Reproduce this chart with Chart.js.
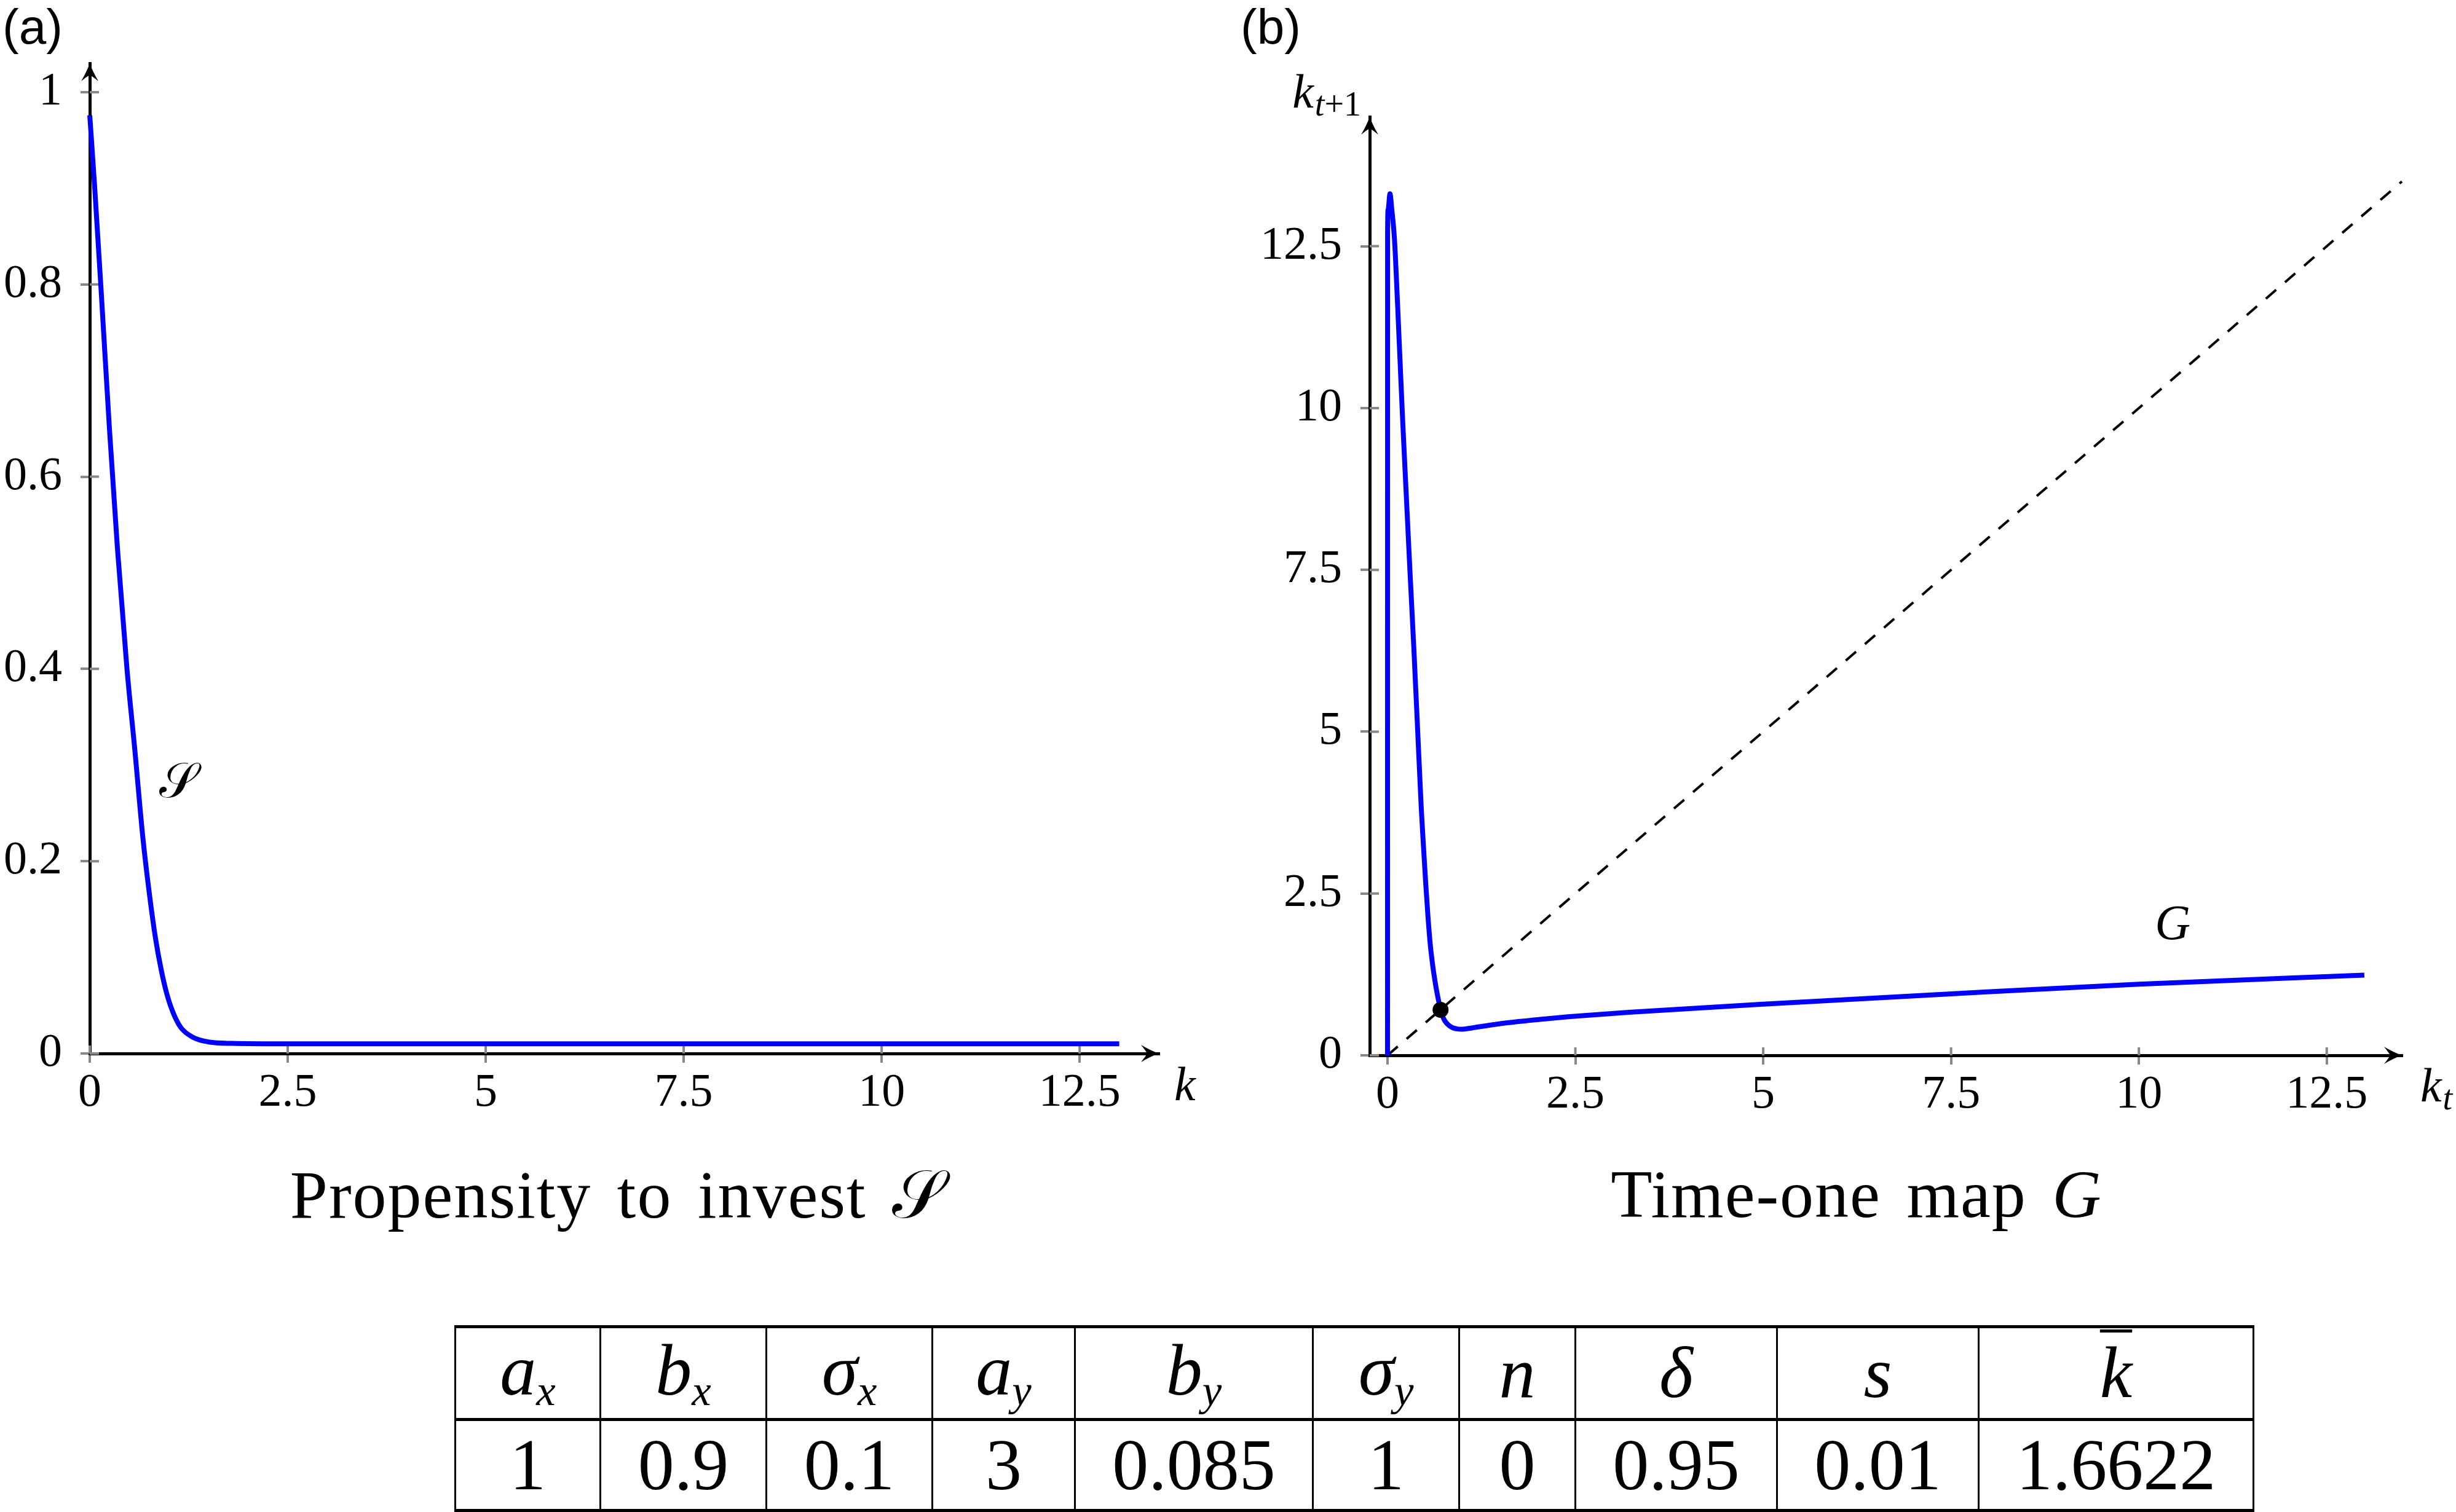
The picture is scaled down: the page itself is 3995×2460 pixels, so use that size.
<!DOCTYPE html>
<html>
<head>
<meta charset="utf-8">
<title>Propensity to invest and time-one map</title>
<script src="https://cdn.jsdelivr.net/npm/chart.js@4.4.1/dist/chart.umd.min.js"></script>
<style>
  html, body { margin: 0; padding: 0; background: #fff; }
  body { position: relative; width: 3995px; height: 2460px; overflow: hidden; font-family: "Liberation Serif", serif; color: #000; }
  canvas { position: absolute; top: 0; }
  #chartA { left: 0; }
  #chartB { left: 2000px; }
  .tag { position: absolute; top: 4px; font: 80px/80px "Liberation Sans", Arial, sans-serif; }
  .cap { position: absolute; top: 1888px; width: 1600px; text-align: center; font-size: 110px; line-height: 110px; white-space: nowrap; letter-spacing: 2px; word-spacing: 12px; }
  .cal { font-family: "DejaVu Serif", "DejaVu Sans", serif; }
  #params { position: absolute; left: 739px; top: 2156px; border-collapse: collapse; table-layout: fixed; font-size: 118px; line-height: 1; }
  #params td { border-left: 3px solid #000; border-right: 3px solid #000; border-top: 5px solid #000; border-bottom: 5px solid #000; text-align: center; vertical-align: middle; padding: 0; }
  #params tr:first-child td { height: 146px; }
  #params tr:last-child td { height: 143px; }
  #params .sub { font-size: 0.6em; vertical-align: -0.24em; }
  #params .bar { text-decoration: overline; text-decoration-thickness: 5px; }
</style>
</head>
<body>
<div class="tag" style="left:4px">(a)</div>
<div class="tag" style="left:2018px">(b)</div>
<canvas id="chartA" width="2000" height="1860"></canvas>
<canvas id="chartB" width="1995" height="1860"></canvas>
<div class="cap" style="left:205px">Propensity to invest <span class="cal">𝒮</span></div>
<div class="cap" style="left:2220px">Time-one map <i>G</i></div>
<table id="params"></table>

<script>
// panel (a): propensity to invest S(k)
const kA = [0, 0.06, 0.15, 0.25, 0.35, 0.47, 0.57, 0.67, 0.75, 0.83, 0.9, 0.97, 1.05, 1.15, 1.3, 1.5, 1.8, 2.5, 5, 7.5, 10, 13];
const sA = [0.976, 0.904, 0.785, 0.648, 0.525, 0.40, 0.315, 0.225, 0.168, 0.12, 0.088, 0.063, 0.043, 0.027, 0.017, 0.012, 0.0105, 0.01, 0.01, 0.01, 0.01, 0.01];

// panel (b): time-one map G(k_t)
const kB = [0, 0.001, 0.008, 0.033, 0.057, 0.093, 0.134, 0.166, 0.2, 0.25, 0.3, 0.35, 0.4, 0.45, 0.48, 0.51, 0.54, 0.57, 0.6, 0.63, 0.66, 0.69, 0.72, 0.75, 0.78, 0.82, 0.87, 0.93, 0.98, 1.05, 1.17, 1.58, 2.12, 2.4, 3.21, 5, 7.5, 10, 13];
const gB = [0, 12.7, 13.07, 13.31, 13.07, 12.6, 11.6, 10.75, 9.85, 8.65, 7.45, 6.3, 5.05, 3.8, 3.2, 2.63, 2.12, 1.7, 1.4, 1.16, 0.96, 0.79, 0.645, 0.56, 0.505, 0.46, 0.425, 0.407, 0.403, 0.41, 0.432, 0.5, 0.565, 0.595, 0.665, 0.79, 0.95, 1.1, 1.24];
const diagK = [0, 13.5];
const fixedK = [0.706];
const fixedG = [0.703];

// ticks
const kTickVals = [0, 2.5, 5, 7.5, 10, 12.5];
const kTickLabels = ['0', '2.5', '5', '7.5', '10', '12.5'];
const sTickVals = [0, 0.2, 0.4, 0.6, 0.8, 1];
const sTickLabels = ['0', '0.2', '0.4', '0.6', '0.8', '1'];
const gTickVals = [0, 2.5, 5, 7.5, 10, 12.5];
const gTickLabels = ['0', '2.5', '5', '7.5', '10', '12.5'];

// parameter table
const paramSymbols = ['a', 'b', 'σ', 'a', 'b', 'σ', 'n', 'δ', 's', 'k'];
const paramSubs = ['x', 'x', 'x', 'y', 'y', 'y', '', '', '', ''];
const paramBars = [false, false, false, false, false, false, false, false, false, true];
const paramValues = ['1', '0.9', '0.1', '3', '0.085', '1', '0', '0.95', '0.01', '1.6622'];

const SERIF = '"Liberation Serif", "Times New Roman", serif';
const BLUE = '#0000ff';
const colWidths = [233, 267, 267, 229, 384, 235, 186, 325, 325, 444];

// table
const table = document.getElementById('params');
const headRow = table.insertRow();
const valRow = table.insertRow();
paramSymbols.forEach((sym, i) => {
  const th = headRow.insertCell();
  th.style.width = colWidths[i] + 'px';
  let html = paramBars[i] ? '<i class="bar">' + sym + '</i>' : '<i>' + sym + '</i>';
  if (paramSubs[i]) html += '<i class="sub">' + paramSubs[i] + '</i>';
  th.innerHTML = html;
  valRow.insertCell().textContent = paramValues[i];
});

function arrowHead(ctx, x, y, angle) {
  ctx.save();
  ctx.translate(x, y);
  ctx.rotate(angle);
  ctx.beginPath();
  ctx.moveTo(0, 0);
  ctx.quadraticCurveTo(-14, -5, -29, -14);
  ctx.quadraticCurveTo(-21, -4, -19, 0);
  ctx.quadraticCurveTo(-21, 4, -29, 14);
  ctx.quadraticCurveTo(-14, 5, 0, 0);
  ctx.closePath();
  ctx.fill();
  ctx.restore();
}

// parts: {t: text, f: 'i' | 'r' | 'si' | 'sr'}
function mathText(ctx, parts, x, y, align) {
  const fonts = { i: 'italic 78px ' + SERIF, r: '78px ' + SERIF, si: 'italic 56px ' + SERIF, sr: '56px ' + SERIF };
  let w = 0;
  parts.forEach(p => { ctx.font = fonts[p.f]; p.w = ctx.measureText(p.t).width; w += p.w; });
  let cx = align === 'right' ? x - w : (align === 'center' ? x - w / 2 : x);
  ctx.textAlign = 'left';
  ctx.textBaseline = 'alphabetic';
  parts.forEach(p => {
    ctx.font = fonts[p.f];
    ctx.fillText(p.t, cx, y + (p.f[0] === 's' ? 13 : 0));
    cx += p.w + (p.f === 'i' ? 2 : 0);
  });
}

function extras(id, drawLabels) {
  return {
    id: id,
    beforeDatasetsDraw(chart) {
      const { ctx, chartArea: a, scales } = chart;
      ctx.save();
      ctx.strokeStyle = '#888';
      ctx.lineWidth = 4;
      ctx.beginPath();
      scales.x.ticks.forEach(t => {
        const px = scales.x.getPixelForValue(t.value);
        ctx.moveTo(px, a.bottom);
        ctx.lineTo(px, a.bottom - 13);
      });
      scales.y.ticks.forEach(t => {
        const py = scales.y.getPixelForValue(t.value);
        ctx.moveTo(a.left, py);
        ctx.lineTo(a.left + 15, py);
      });
      ctx.stroke();
      ctx.restore();
    },
    afterDraw(chart) {
      const { ctx, chartArea: a } = chart;
      ctx.save();
      ctx.fillStyle = '#000';
      arrowHead(ctx, a.right, a.bottom, 0);
      arrowHead(ctx, a.left, a.top, -Math.PI / 2);
      drawLabels(chart, ctx, a);
      ctx.restore();
    }
  };
}

function axisOpts(min, max, vals, labels, fitKey, fitSize, pad) {
  return {
    type: 'linear',
    min: min,
    max: max,
    afterBuildTicks: s => { s.ticks = vals.map(v => ({ value: v })); },
    afterFit: s => { s[fitKey] = fitSize; },
    grid: { drawOnChartArea: false, drawTicks: true, tickLength: 15, color: '#888', lineWidth: 4 },
    border: { display: true, color: '#000', width: 5 },
    ticks: {
      autoSkip: false, maxRotation: 0, padding: pad, color: '#000',
      font: { family: 'Liberation Serif', size: 76 },
      callback: (v, i) => labels[i]
    }
  };
}

const common = {
  responsive: false,
  devicePixelRatio: 1,
  animation: false,
  events: [],
  plugins: { legend: { display: false }, tooltip: { enabled: false } }
};

new Chart(document.getElementById('chartA'), {
  type: 'line',
  data: {
    datasets: [{
      label: 'S',
      data: kA.map((k, i) => ({ x: k, y: sA[i] })),
      borderColor: BLUE,
      borderWidth: 8,
      pointRadius: 0,
      fill: false,
      clip: false,
      cubicInterpolationMode: 'monotone'
    }]
  },
  options: Object.assign({}, common, {
    layout: { padding: { left: 0, top: 103, right: 115, bottom: 46 } },
    scales: {
      x: axisOpts(0, 13.5, kTickVals, kTickLabels, 'height', 100, 4),
      y: axisOpts(0, 1.03, sTickVals, sTickLabels, 'width', 146, 30)
    }
  }),
  plugins: [extras('extrasA', (chart, ctx, a) => {
    mathText(ctx, [{ t: 'k', f: 'i' }], a.right + 25, a.bottom + 76, 'left');
    ctx.font = '80px "DejaVu Serif", "DejaVu Sans", serif';
    ctx.textAlign = 'center';
    ctx.textBaseline = 'middle';
    ctx.fillText('𝒮', chart.scales.x.getPixelForValue(1.12), chart.scales.y.getPixelForValue(0.28));
  })]
});

new Chart(document.getElementById('chartB'), {
  type: 'line',
  data: {
    datasets: [{
      label: 'fixed point',
      data: fixedK.map((k, i) => ({ x: k, y: fixedG[i] })),
      showLine: false,
      pointRadius: 13,
      pointBackgroundColor: '#000',
      pointBorderWidth: 0,
      clip: false,
      order: 0
    }, {
      label: 'G',
      data: kB.map((k, i) => ({ x: k, y: gB[i] })),
      borderColor: BLUE,
      borderWidth: 8,
      pointRadius: 0,
      fill: false,
      clip: false,
      cubicInterpolationMode: 'monotone',
      order: 1
    }, {
      label: '45 degree line',
      data: diagK.map(k => ({ x: k, y: k })),
      borderColor: '#000',
      borderWidth: 4,
      borderDash: [22, 19],
      pointRadius: 0,
      fill: false,
      clip: false,
      order: 2
    }]
  },
  options: Object.assign({}, common, {
    layout: { padding: { left: 0, top: 190, right: 88, bottom: 43 } },
    scales: {
      x: axisOpts(-0.237, 13.5, kTickVals, kTickLabels, 'height', 100, 4),
      y: axisOpts(0, 14.5, gTickVals, gTickLabels, 'width', 228, 30)
    }
  }),
  plugins: [extras('extrasB', (chart, ctx, a) => {
    mathText(ctx, [{ t: 'k', f: 'i' }, { t: 't', f: 'si' }], a.right + 30, a.bottom + 75, 'left');
    mathText(ctx, [{ t: 'k', f: 'i' }, { t: 't', f: 'si' }, { t: '+1', f: 'sr' }], a.left - 16, a.top - 15, 'right');
    ctx.font = 'italic 80px ' + SERIF;
    ctx.textAlign = 'center';
    ctx.textBaseline = 'middle';
    ctx.fillText('G', chart.scales.x.getPixelForValue(10.45), chart.scales.y.getPixelForValue(1.99));
  })]
});
</script>
</body>
</html>
